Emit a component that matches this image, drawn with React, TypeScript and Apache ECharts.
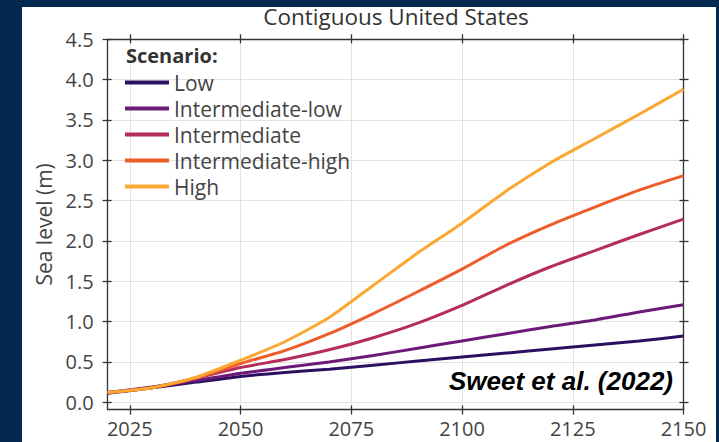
import React, { useEffect, useRef } from "react";
import * as echarts from "echarts";

const years = [2020, 2030, 2040, 2050, 2060, 2070, 2080, 2090, 2100, 2110, 2120, 2130, 2140, 2150];
const low = [0.11, 0.18, 0.25, 0.32, 0.37, 0.41, 0.46, 0.51, 0.56, 0.61, 0.66, 0.71, 0.76, 0.82];
const intermediateLow = [0.12, 0.19, 0.27, 0.36, 0.43, 0.5, 0.58, 0.67, 0.76, 0.85, 0.94, 1.02, 1.12, 1.21];
const intermediate = [0.12, 0.18, 0.3, 0.43, 0.53, 0.65, 0.8, 0.98, 1.2, 1.45, 1.68, 1.88, 2.08, 2.27];
const intermediateHigh = [0.12, 0.18, 0.3, 0.48, 0.64, 0.85, 1.1, 1.37, 1.65, 1.95, 2.2, 2.42, 2.63, 2.81];
const high = [0.12, 0.18, 0.31, 0.52, 0.75, 1.05, 1.45, 1.85, 2.22, 2.62, 2.97, 3.27, 3.57, 3.88];

const scenarioNames = ["Low", "Intermediate-low", "Intermediate", "Intermediate-high", "High"];
const scenarioValues = [low, intermediateLow, intermediate, intermediateHigh, high];
const scenarioColors = ["#2c1060", "#6b1b77", "#b52d5a", "#ee5c2a", "#fba832"];

const xTicks = [2025, 2050, 2075, 2100, 2125, 2150];
const yTicks = [0, 0.5, 1, 1.5, 2, 2.5, 3, 3.5, 4, 4.5];

const X_MIN = 2020;
const X_MAX = 2150;
const Y_MIN = -0.09;
const Y_MAX = 4.5;

const FONT = '"Open Sans", "Noto Sans", sans-serif';
const AXIS_COLOR = "#333";

function buildOption(): any {
  const lineStyle = { color: AXIS_COLOR, width: 1.3 };
  const baseX = { type: "value", min: X_MIN, max: X_MAX, gridIndex: 0 };
  const baseY = { type: "value", min: Y_MIN, max: Y_MAX, gridIndex: 0 };
  const hiddenLabel = { show: false };

  const xAxes = [
    {
      ...baseX,
      position: "bottom",
      axisLine: { show: true, onZero: false, lineStyle },
      axisTick: { show: true, inside: false, length: 5, customValues: xTicks, lineStyle },
      axisLabel: {
        show: true,
        customValues: xTicks,
        fontSize: 20,
        color: "#444",
        fontFamily: FONT,
        margin: 9,
        formatter: (v: number) => String(v),
      },
      splitLine: { show: true, lineStyle: { color: "#e2e2e2", width: 1 } },
    },
    {
      ...baseX,
      position: "bottom",
      axisLine: { show: false, onZero: false },
      axisTick: { show: true, inside: true, length: 4, customValues: xTicks, lineStyle },
      axisLabel: hiddenLabel,
      splitLine: { show: false },
    },
    {
      ...baseX,
      position: "top",
      axisLine: { show: true, onZero: false, lineStyle },
      axisTick: { show: true, inside: false, length: 5, customValues: xTicks, lineStyle },
      axisLabel: hiddenLabel,
      splitLine: { show: false },
    },
    {
      ...baseX,
      position: "top",
      axisLine: { show: false, onZero: false },
      axisTick: { show: true, inside: true, length: 4, customValues: xTicks, lineStyle },
      axisLabel: hiddenLabel,
      splitLine: { show: false },
    },
  ];

  const yAxes = [
    {
      ...baseY,
      position: "left",
      name: "Sea level (m)",
      nameLocation: "middle",
      nameRotate: 90,
      nameGap: 50,
      nameTextStyle: { fontSize: 21, color: "#444", fontFamily: FONT },
      axisLine: { show: true, onZero: false, lineStyle },
      axisTick: { show: true, inside: false, length: 5, customValues: yTicks, lineStyle },
      axisLabel: {
        show: true,
        customValues: yTicks,
        fontSize: 20,
        color: "#444",
        fontFamily: FONT,
        margin: 14,
        formatter: (v: number) => v.toFixed(1),
      },
      splitLine: { show: true, lineStyle: { color: "#e2e2e2", width: 1 } },
    },
    {
      ...baseY,
      position: "left",
      axisLine: { show: false, onZero: false },
      axisTick: { show: true, inside: true, length: 4, customValues: yTicks, lineStyle },
      axisLabel: hiddenLabel,
      splitLine: { show: false },
    },
    {
      ...baseY,
      position: "right",
      axisLine: { show: true, onZero: false, lineStyle },
      axisTick: { show: true, inside: false, length: 5, customValues: yTicks, lineStyle },
      axisLabel: hiddenLabel,
      splitLine: { show: false },
    },
    {
      ...baseY,
      position: "right",
      axisLine: { show: false, onZero: false },
      axisTick: { show: true, inside: true, length: 4, customValues: yTicks, lineStyle },
      axisLabel: hiddenLabel,
      splitLine: { show: false },
    },
  ];

  const series = scenarioNames.map((name, i) => ({
    name,
    type: "line",
    xAxisIndex: 0,
    yAxisIndex: 0,
    data: years.map((y, j) => [y, scenarioValues[i][j]]),
    showSymbol: false,
    smooth: 0.2,
    color: scenarioColors[i],
    itemStyle: { color: scenarioColors[i] },
    lineStyle: { color: scenarioColors[i], width: 3 },
    z: 3 + i,
  }));

  return {
    animation: false,
    backgroundColor: "transparent",
    title: {
      text: "Contiguous United States",
      left: 396,
      top: 5,
      textAlign: "center",
      padding: 0,
      textStyle: { fontSize: 22.5, fontWeight: "normal", color: "#333", fontFamily: FONT },
    },
    grid: { left: 107.6, right: 35.5, top: 39.3, bottom: 32.5, containLabel: false },
    xAxis: xAxes,
    yAxis: yAxes,
    legend: {
      orient: "vertical",
      left: 125,
      top: 72,
      padding: 0,
      itemWidth: 44,
      itemHeight: 4,
      itemGap: 5,
      icon: "rect",
      textStyle: { fontSize: 21, color: "#444", lineHeight: 20, fontFamily: FONT },
      data: scenarioNames,
    },
    graphic: [
      {
        type: "text",
        left: 126,
        top: 45,
        z: 100,
        style: { text: "Scenario:", font: `bold 20px ${FONT}`, fill: "#333" },
      },
      {
        type: "text",
        right: 46,
        top: 368,
        z: 100,
        style: {
          text: "Sweet et al. (2022)",
          font: 'italic bold 26px "Liberation Sans", Arial, sans-serif',
          fill: "#000",
        },
      },
    ],
    series,
  };
}

export default function App() {
  const ref = useRef<HTMLDivElement>(null);
  useEffect(() => {
    if (!ref.current) return;
    const chart = echarts.init(ref.current, null, { renderer: "svg" });
    chart.setOption(buildOption());
    return () => chart.dispose();
  }, []);
  return (
    <div
      style={{
        position: "fixed",
        left: 0,
        top: 0,
        width: 719,
        height: 442,
        background: "#04294f",
        overflow: "hidden",
      }}
    >
      <div
        style={{ position: "absolute", left: 22, top: 7, width: 694, height: 435, background: "#ffffff" }}
      />
      <div ref={ref} style={{ position: "absolute", left: 0, top: 0, width: 719, height: 442 }} />
    </div>
  );
}
